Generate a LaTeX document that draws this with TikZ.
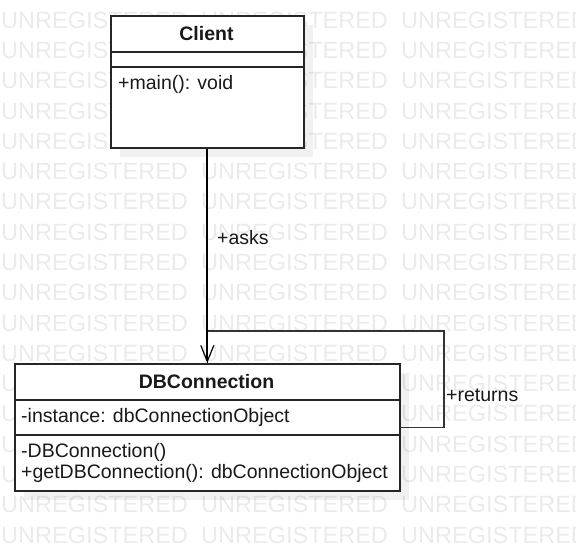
\documentclass[tikz,border=0pt]{standalone}
\usepackage{fontspec}
\setmainfont{Liberation Sans}
\usetikzlibrary{arrows.meta}
\begin{document}
\begin{tikzpicture}[x=1pt,y=-1pt,
  wm/.style={anchor=base west,inner sep=0pt,text=black!8,font=\fontsize{23.5}{28}\selectfont},
  shadowbox/.style={fill=black,fill opacity=0.055,draw=none},
  umlbox/.style={draw=black!85,line width=1.6pt,fill=white,inner sep=0pt,anchor=north west},
  sepline/.style={draw=black!85,line width=1.4pt},
  lbl/.style={inner sep=0pt,font=\fontsize{19.5}{23}\selectfont,text=black!90},
  asks/.style={draw=black,line width=1.8pt,-{Straight Barb[length=16pt,width=13pt,line width=1.2pt]}},
  loopline/.style={draw=black!80,line width=1.2pt}]
\useasboundingbox (0,0) rectangle (576,550);
\fill[white] (0,0) rectangle (576,550);
% watermark
\foreach \r in {0,...,17}{
  \foreach \c in {0,1,2}{
    \node[wm] (wm\r-\c) at (\c*200+1, 28.3+\r*30.28) {UNREGISTERED};
  }
}
% shadows
\fill[shadowbox] (120,25) rectangle (313,157);
\fill[shadowbox] (24,373) rectangle (409,500);
% Client class
\node[umlbox,minimum width=193pt,minimum height=132pt] (client) at (110,15) {};
\draw[sepline] (110,52) -- (303,52);
\draw[sepline] (110,67) -- (303,67);
\node[lbl,anchor=base,font=\fontsize{19.5}{23}\selectfont\bfseries] (cname) at (206.5,40) {Client};
\node[lbl,anchor=base west] (cop) at (118,89) {+main(): void};
% DBConnection class
\node[umlbox,minimum width=385pt,minimum height=127pt] (db) at (14,363) {};
\draw[sepline] (14,400) -- (399,400);
\draw[sepline] (14,435) -- (399,435);
\node[lbl,anchor=base,font=\fontsize{19.5}{23}\selectfont\bfseries] (dbname) at (206.5,388) {DBConnection};
\node[lbl,anchor=base west] (dbattr) at (21,422) {-instance: dbConnectionObject};
\node[lbl,anchor=base west] (dbop1) at (21,457) {-DBConnection()};
\node[lbl,anchor=base west] (dbop2) at (21,478) {+getDBConnection(): dbConnectionObject};
% self association
\coordinate (loopc) at (444,331);
\draw[loopline] (db.east) -| (loopc) -| (db.north);
\node[lbl,anchor=base west] (lret) at (446,401) {+returns};
% client asks
\draw[asks] (client.south) -- (db.north);
\node[lbl,anchor=base west] (lasks) at (217,244) {+asks};
\end{tikzpicture}
\end{document}
